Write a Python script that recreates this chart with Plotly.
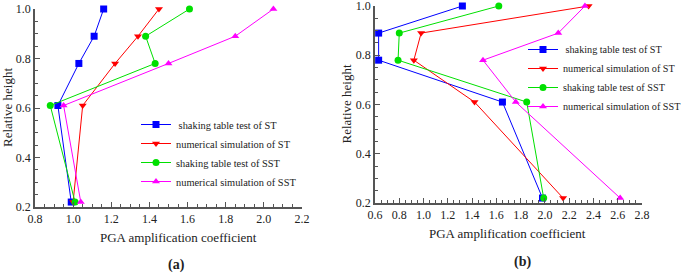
import plotly.graph_objects as go

heights = [1.0, 0.89, 0.78, 0.61, 0.22]

# Panel (a)
a_st_test = [1.16, 1.11, 1.03, 0.92, 0.99]
a_st_num = [1.45, 1.34, 1.22, 1.05, 1.00]
a_sst_test = [1.61, 1.38, 1.43, 0.88, 1.01]
a_sst_num = [2.05, 1.85, 1.50, 0.95, 1.04]

# Panel (b)
b_st_test = [1.32, 0.63, 0.63, 1.65, 1.98]
b_st_num = [2.36, 0.98, 0.92, 1.42, 2.15]
b_sst_test = [1.62, 0.80, 0.79, 1.85, 1.99]
b_sst_num = [2.33, 2.11, 1.49, 1.76, 2.62]

names = [" shaking table test of ST", "numerical simulation of ST",
         "shaking table test of SST", "numerical simulation of SST"]
colors = ["#0000FF", "#FF0000", "#00E000", "#FF00FF"]
symbols = ["square", "triangle-down", "circle", "triangle-up"]

FONT = "Liberation Serif"
W, H = 685, 273
EPS = 1e-6

fig = go.Figure()
for i, xs in enumerate([a_st_test, a_st_num, a_sst_test, a_sst_num]):
    fig.add_trace(go.Scatter(x=xs, y=heights, mode="lines+markers", name=names[i],
                             line=dict(color=colors[i], width=1), cliponaxis=False,
                             marker=dict(symbol=symbols[i], size=7, color=colors[i]),
                             xaxis="x", yaxis="y", legend="legend"))
for i, xs in enumerate([b_st_test, b_st_num, b_sst_test, b_sst_num]):
    fig.add_trace(go.Scatter(x=xs, y=heights, mode="lines+markers", name=names[i],
                             line=dict(color=colors[i], width=1), cliponaxis=False,
                             marker=dict(symbol=symbols[i], size=7, color=colors[i]),
                             xaxis="x2", yaxis="y2", legend="legend2"))

def axis_common():
    return dict(showline=True, linecolor="#555555", linewidth=1.5, showgrid=False,
                zeroline=False, ticks="inside", ticklen=5, tickcolor="#555555",
                tickfont=dict(family=FONT, size=12, color="#222"),
                minor=dict(ticks="inside", ticklen=3, tickcolor="#555555"),
                mirror=False, automargin=False, tickformat=".1f", dtick=0.2,
                ticklabeloverflow="allow")

ya = (1 - 207 / H, 1 - 9 / H)
yb = (1 - 203 / H, 1 - 6 / H)

fig.update_layout(
    width=W, height=H, margin=dict(l=0, r=0, t=0, b=0, autoexpand=False),
    paper_bgcolor="white", plot_bgcolor="white",
    font=dict(family=FONT, color="#222"),
    xaxis=dict(domain=[35 / W, 302 / W], range=[0.8 - EPS, 2.2 + EPS], tick0=0.8,
               anchor="y", **axis_common()),
    yaxis=dict(domain=list(ya), range=[0.2 - EPS, 1.0 + EPS], tick0=0.2,
               anchor="x", **axis_common()),
    xaxis2=dict(domain=[375 / W, 642 / W], range=[0.6 - EPS, 2.8 + EPS], tick0=0.6,
                anchor="y2", **axis_common()),
    yaxis2=dict(domain=list(yb), range=[0.2 - EPS, 1.0 + EPS], tick0=0.2,
                anchor="x2", **axis_common()),
    legend=dict(x=136 / W, y=1 - 110 / H, xanchor="left", yanchor="top",
                bgcolor="rgba(0,0,0,0)", font=dict(family=FONT, size=10.4),
                tracegroupgap=0, itemwidth=30),
    legend2=dict(x=523 / W, y=1 - 35 / H, xanchor="left", yanchor="top",
                 bgcolor="rgba(0,0,0,0)", font=dict(family=FONT, size=10.2),
                 tracegroupgap=0, itemwidth=30),
    annotations=[
        dict(text="PGA amplification coefficient", x=178 / W, y=1 - 237 / H, xref="paper",
             yref="paper", xanchor="center", yanchor="middle", showarrow=False,
             font=dict(family=FONT, size=13)),
        dict(text="PGA amplification coefficient", x=507 / W, y=1 - 233 / H, xref="paper",
             yref="paper", xanchor="center", yanchor="middle", showarrow=False,
             font=dict(family=FONT, size=13)),
        dict(text="Relative height", x=8 / W, y=(ya[0] + ya[1]) / 2, xref="paper", yref="paper",
             xanchor="center", yanchor="middle", showarrow=False, textangle=-90,
             font=dict(family=FONT, size=13)),
        dict(text="Relative height", x=346 / W, y=(yb[0] + yb[1]) / 2, xref="paper", yref="paper",
             xanchor="center", yanchor="middle", showarrow=False, textangle=-90,
             font=dict(family=FONT, size=13)),
        dict(text="<b>(a)</b>", x=176 / W, y=1 - 265 / H, xref="paper", yref="paper",
             xanchor="center", yanchor="middle", showarrow=False, font=dict(family=FONT, size=14)),
        dict(text="<b>(b)</b>", x=522 / W, y=1 - 262 / H, xref="paper", yref="paper",
             xanchor="center", yanchor="middle", showarrow=False, font=dict(family=FONT, size=14)),
    ],
)

fig.write_html("out.html", config={"displayModeBar": False},
               post_script="document.body.style.margin='0';")
